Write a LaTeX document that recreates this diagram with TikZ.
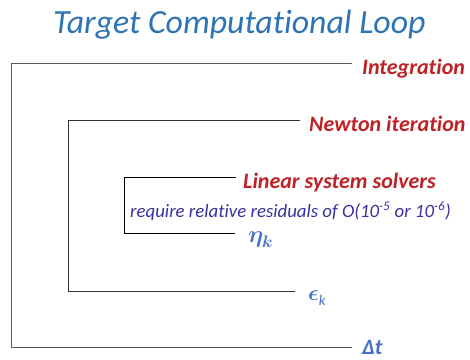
\documentclass[tikz,border=0pt]{standalone}
\usepackage{fontspec}
\setmainfont{Carlito}[Ligatures=NoCommon]
\usepackage{unicode-math}
\definecolor{titleblue}{RGB}{46,116,181}
\definecolor{loopred}{RGB}{192,33,38}
\definecolor{notepurple}{RGB}{58,48,158}
\definecolor{symblue}{RGB}{68,114,196}
\tikzset{
  bracket/.style={line width=0.9pt, draw=#1},
  levellabel/.style={anchor=base west, inner sep=0pt, text=loopred, font=\fontsize{22}{24}\selectfont\bfseries\itshape},
  symlabel/.style={anchor=base west, inner sep=0pt, text=symblue},
}
\begin{document}
\begin{tikzpicture}[x=1pt,y=-1pt]
\useasboundingbox (0,0) rectangle (470,359);

% title
\node[anchor=base west, inner sep=0pt, text=titleblue,
      font=\fontsize{33.8}{36}\selectfont\itshape] (title) at (53,33) {Target Computational Loop};

% nested loop brackets: top end, top-left corner, bottom-left corner, bottom end
\coordinate (oT) at (352,63);  \coordinate (oTL) at (11,63);
\coordinate (oBL) at (11,347); \coordinate (oB) at (352,347);
\coordinate (mT) at (300,120); \coordinate (mTL) at (68,120);
\coordinate (mBL) at (68,291); \coordinate (mB) at (295,291);
\coordinate (iT) at (236,177); \coordinate (iTL) at (124,177);
\coordinate (iBL) at (124,233); \coordinate (iB) at (235,233);

\draw[bracket=black!65] (oT) -- (oTL) -- (oBL) -- (oB);
\draw[bracket=black!80] (mT) -- (mTL) -- (mBL) -- (mB);
\draw[bracket=black] (iT) -- (iTL) -- (iBL) -- (iB);

% loop names
\node[levellabel] (integ) at (362,74) {Integration};
\node[levellabel] (newton) at (309,131) {Newton iteration};
\node[levellabel] (linear) at (243,188) {Linear system solvers};

\node[anchor=base west, inner sep=0pt, text=notepurple,
      font=\fontsize{18.8}{20}\selectfont\itshape] (note) at (130,217)
  {require relative residuals of O(10\textsuperscript{-5} or 10\textsuperscript{-6})};

% tolerances
\node[symlabel, font=\fontsize{24}{24}\selectfont] (eta) at (248,242) {$\symbfit{\eta}_{\symbfit{k}}$};
\node[symlabel, font=\fontsize{22}{24}\selectfont] (eps) at (308,300) {$\symbf{\epsilon}$\raisebox{-0.25em}{\fontsize{15}{16}\selectfont\itshape k}};
\node[symlabel, font=\fontsize{22}{24}\selectfont\bfseries\itshape] (dt) at (362,354) {Δt};
\end{tikzpicture}
\end{document}
